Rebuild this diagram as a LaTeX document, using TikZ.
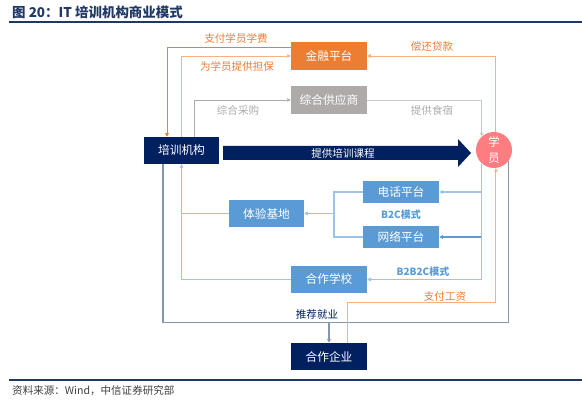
\documentclass[tikz,border=0pt]{standalone}
\usepackage{fontspec}
\setmainfont{Noto Sans CJK SC}
\usetikzlibrary{arrows.meta,positioning,calc}
\definecolor{navy}{RGB}{0,32,96}
\definecolor{orng}{RGB}{237,125,49}
\definecolor{lorng}{RGB}{244,177,131}
\definecolor{gbox}{RGB}{174,170,170}
\definecolor{lgray}{RGB}{200,200,200}
\definecolor{salmon}{RGB}{255,124,128}
\definecolor{bbox}{RGB}{91,155,213}
\definecolor{lblue}{RGB}{157,195,230}
\definecolor{slate}{RGB}{132,151,176}
\definecolor{rule}{RGB}{31,56,100}

\begin{document}
\begin{tikzpicture}[x=0.03cm,y=-0.03cm,>={Triangle[length=3pt,width=3pt]},
 box/.style={fill=#1,text=white,minimum width=2.28cm,minimum height=0.81cm,inner sep=0pt,font=\fontsize{10}{12}\selectfont},
 lab/.style={font=\fontsize{9}{11}\selectfont,inner sep=1pt},
 orline/.style={orng,line width=0.8pt},lorline/.style={lorng,line width=0.8pt},
 gline/.style={gbox,line width=0.8pt},lgline/.style={lgray,line width=0.8pt},
 lbline/.style={lblue,line width=1pt},bline/.style={bbox,line width=1pt},
 sline/.style={slate,line width=1pt}]
\useasboundingbox (0,0) rectangle (582,403);
% title and rules
\node[anchor=west,text=rule,font=\fontsize{11.5}{13}\selectfont\bfseries,inner sep=0pt] (title) at (12,12) {图 20：IT 培训机构商业模式};
\draw[rule,line width=1pt] (9,22)--(582,22);
\draw[rule,line width=1pt] (9,380)--(582,380);
\node[anchor=west,text=black!75,font=\fontsize{9}{11}\selectfont,inner sep=0pt] (src) at (12,391) {资料来源：Wind，中信证券研究部};
% boxes
\node[box=navy,minimum width=2.25cm] (inst) at (181.5,150.5) {培训机构};
\node[box=orng,minimum height=0.84cm] (fin) at (329,56) {金融平台};
\node[box=gbox,minimum height=0.84cm] (supp) at (329,100) {综合供应商};
\node[box=bbox,minimum height=0.66cm] (tel) at (401,192) {电话平台};
\node[box=bbox,minimum height=0.66cm] (web) at (401,237) {网络平台};
\node[box=bbox,minimum width=2.25cm] (base) at (266.5,213.5) {体验基地};
\node[box=bbox] (school) at (329,279.5) {合作学校};
\node[box=navy] (firm) at (329,356.5) {合作企业};
\node[circle,fill=salmon,text=white,minimum size=1.08cm,inner sep=0pt,align=center,
 font=\fontsize{10}{13}\selectfont] (stu) at (494,150) {学\\员};
% course arrow
\fill[navy] (223,146)--(458,146)--(458,139)--(471,153)--(458,167)--(458,160)--(223,160)--cycle;
\node[text=white,lab] (course) at (343,153) {提供培训课程};
% finance and supply
\draw[orline,->] ([yshift=0.27cm]fin.west) -| ([xshift=-0.435cm]inst.north);
\node[lab,text=orng] (fee) at (236,38) {支付学员学费};
\draw[lorline,->] (inst.north) |- (fin.west);
\node[lab,text=orng] (guar) at (237,66) {为学员提供担保};
\draw[gline,->] ([xshift=0.375cm]inst.north) |- (supp.west);
\node[lab,text=gbox] (buy) at (238,110) {综合采购};
\draw[lgline,->] (supp.east) -| (stu.132);
\node[lab,text=gbox] (food) at (432,110) {提供食宿};
\draw[lorline,->] (stu.84) |- (fin.east);
\node[lab,text=orng] (repay) at (432,46) {偿还贷款};
% channels
\draw[lbline,->] (stu.228) |- (tel.east);
\draw[bline,->] (stu.228) |- (web.east);
\draw[lbline,->] (stu.228) |- (school.east);
\node[lab,text=bbox,font=\fontsize{8.5}{10}\selectfont\bfseries] (b2c) at (401,215) {B2C模式};
\node[lab,text=bbox,font=\fontsize{8.5}{10}\selectfont\bfseries] (b2b2c) at (423,272) {B2B2C模式};
\coordinate (split) at (334,213.5);
\draw[lbline] (tel.west) -| (split) |- (web.west);
\draw[lbline,->] (split) -- (base.east);
\draw[lbline,->] (base.west) -| (inst.south);
\draw[lbline] (school.west) -| (inst.south);
% employment and wages
\draw[sline,->] ([xshift=-0.555cm]inst.south) |- ([yshift=0.6cm]firm.north) -- (firm.north);
\draw[sline] (stu.321) |- ([yshift=0.6cm]firm.north);
\node[lab,text=navy] (job) at (317,314) {推荐就业};
\draw[lorline,->] ([xshift=0.54cm]firm.north) -- ++(0,-40) -| (stu.276);
\node[lab,text=orng] (wage) at (445,297) {支付工资};
\end{tikzpicture}
\end{document}
